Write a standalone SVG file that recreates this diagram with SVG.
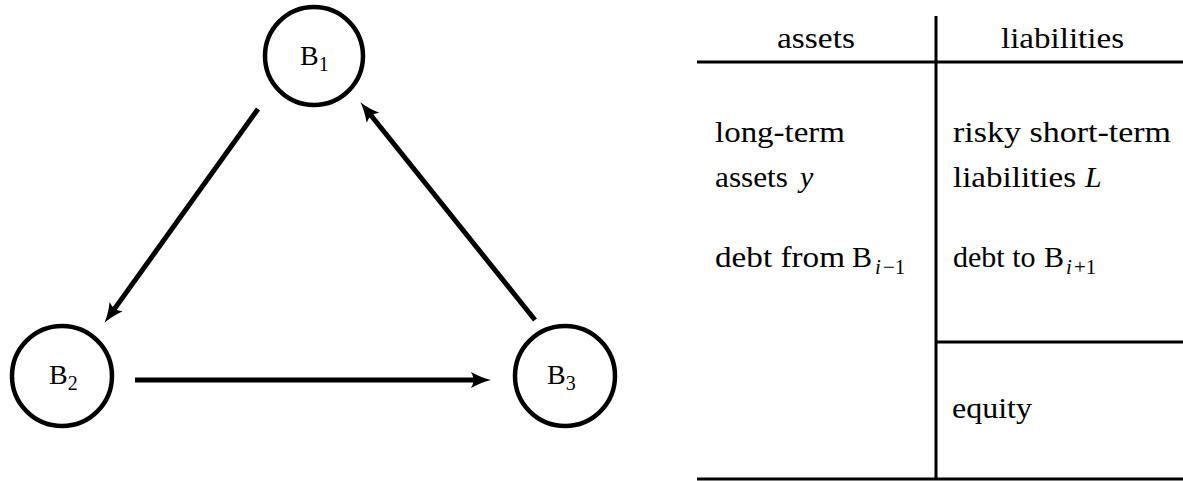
<svg xmlns="http://www.w3.org/2000/svg" width="1183" height="481" viewBox="0 0 1183 481">
<style>
.node{fill:#fff;stroke:#000;stroke-width:4.5}
.lbl{font-size:28px}
.sub{font-size:20px}
.tab{font-size:30px}
.tsub{font-size:21px}
.it{font-style:italic}
.edge{stroke:#000;stroke-width:5;fill:none}
.rule{stroke:#000;stroke-width:3}
</style>
<defs>
<marker id="ah" markerUnits="userSpaceOnUse" orient="auto" overflow="visible" refX="0" refY="0" markerWidth="20" markerHeight="20">
<path d="M-9,-8 Q2,-2 11,0 Q2,2 -9,8 Q-4,0 -9,-8 Z" fill="#000"/>
</marker>
</defs>
<rect width="1183" height="481" fill="#fff"/>
<g id="connectors">
<line class="edge" x1="258" y1="109" x2="110.9" y2="313.9" marker-end="url(#ah)"/>
<line class="edge" x1="135" y1="380" x2="480" y2="380" marker-end="url(#ah)"/>
<line class="edge" x1="535" y1="320" x2="367.3" y2="110.8" marker-end="url(#ah)"/>
</g>
<g font-family="'Liberation Serif', 'Times New Roman', 'DejaVu Serif', serif" fill="#000">
<g id="B1">
<circle class="node" cx="314" cy="56" r="49"/>
<text class="lbl" x="300" y="65">B<tspan class="sub" y="71">1</tspan></text>
</g>
<g id="B2">
<circle class="node" cx="62" cy="376" r="50"/>
<text class="lbl" x="49" y="384">B<tspan class="sub" y="390">2</tspan></text>
</g>
<g id="B3">
<circle class="node" cx="565" cy="376" r="50"/>
<text class="lbl" x="547" y="384">B<tspan class="sub" y="390">3</tspan></text>
</g>
<g id="balance-sheet">
<line class="rule" x1="936" y1="16" x2="936" y2="480"/>
<line class="rule" x1="697" y1="62" x2="1183" y2="62"/>
<line class="rule" x1="936" y1="342" x2="1183" y2="342"/>
<line class="rule" x1="697" y1="479" x2="1183" y2="479"/>
<text class="tab" x="777" y="48" textLength="78" lengthAdjust="spacingAndGlyphs">assets</text>
<text class="tab" x="1001" y="48" textLength="123" lengthAdjust="spacingAndGlyphs">liabilities</text>
<text class="tab" x="715" y="142" textLength="130" lengthAdjust="spacingAndGlyphs">long-term</text>
<text class="tab" x="715" y="187" textLength="73" lengthAdjust="spacingAndGlyphs">assets</text>
<text class="tab it" x="800" y="187">y</text>
<text class="tab" x="715" y="267" textLength="130" lengthAdjust="spacingAndGlyphs">debt from</text>
<text class="tab" x="852" y="267">B</text>
<text class="tsub it" x="875" y="274">i</text>
<text class="tsub" x="883" y="274">−1</text>
<text class="tab" x="953" y="142" textLength="218" lengthAdjust="spacingAndGlyphs">risky short-term</text>
<text class="tab" x="953" y="187" textLength="123" lengthAdjust="spacingAndGlyphs">liabilities</text>
<text class="tab it" x="1085" y="187">L</text>
<text class="tab" x="953" y="267">debt to</text>
<text class="tab" x="1044" y="267">B</text>
<text class="tsub it" x="1066" y="274">i</text>
<text class="tsub" x="1074" y="274">+1</text>
<text class="tab" x="952" y="418" textLength="80" lengthAdjust="spacingAndGlyphs">equity</text>
</g>
</g>
</svg>
